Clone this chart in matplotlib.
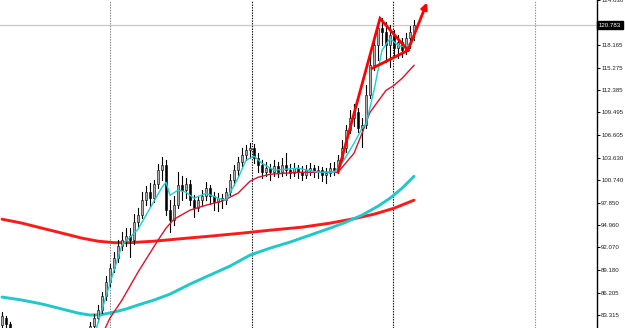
import matplotlib
matplotlib.use("Agg")
import matplotlib.pyplot as plt
from matplotlib.patches import Rectangle

# ---- candle data (bar index = position) ----
opens = [82.02, 82.93, 82.15, 81.51, 80.90, 80.60, 80.40, 80.20, 80.50, 80.30,
         80.00, 79.80, 80.10, 79.90, 79.70, 79.90, 80.20, 80.00, 80.30, 80.10,
         80.40, 80.60, 80.73, 81.89, 82.93, 83.96, 85.77, 87.57, 89.38, 90.67,
         92.22, 92.99, 93.51, 92.99, 95.32, 96.22, 98.16, 99.19, 98.41, 100.22,
         102.03, 102.67, 96.87, 95.57, 97.51, 100.09, 99.45, 100.22, 98.16, 97.12,
         98.16, 98.67, 99.70, 98.67, 97.90, 98.41, 98.16, 99.19, 100.74, 102.03,
         103.06, 103.96, 104.61, 104.87, 103.58, 102.67, 101.77, 102.29, 101.77, 102.54,
         101.77, 102.67, 102.03, 101.64, 102.29, 101.77, 101.38, 102.03, 102.29, 101.77,
         102.03, 101.38, 101.64, 102.29, 102.03, 103.32, 104.87, 107.19, 108.74, 109.51,
         107.45, 107.84, 111.71, 115.58, 118.16, 120.36, 119.84, 118.16, 119.45, 117.77,
         118.55, 117.52, 119.07, 119.84]
highs = [83.70, 83.18, 82.41, 81.55, 81.10, 80.90, 80.60, 80.80, 80.70, 80.50,
         80.20, 80.30, 80.30, 80.10, 80.10, 80.40, 80.40, 80.50, 80.50, 80.60,
         80.80, 80.90, 82.41, 83.44, 84.61, 86.28, 88.35, 89.90, 91.44, 92.99,
         94.03, 94.54, 94.54, 96.35, 97.12, 99.19, 99.96, 100.35, 100.74, 102.80,
         103.71, 103.32, 98.16, 98.67, 101.77, 101.25, 100.99, 100.74, 98.80, 98.67,
         99.45, 100.48, 100.09, 99.19, 99.06, 98.93, 99.70, 101.51, 102.67, 103.71,
         104.87, 105.25, 105.51, 105.38, 104.22, 103.32, 103.06, 102.80, 103.32, 103.06,
         103.58, 104.22, 102.80, 102.93, 102.67, 102.54, 102.67, 102.93, 102.67, 102.54,
         102.41, 102.29, 102.93, 103.06, 103.96, 105.90, 107.84, 109.77, 110.55, 110.03,
         108.74, 113.00, 116.87, 119.45, 121.13, 121.65, 121.13, 120.74, 120.10, 119.45,
         119.07, 119.71, 120.61, 121.39]
lows = [81.64, 81.38, 81.12, 80.70, 80.40, 80.20, 79.90, 80.00, 80.10, 79.80,
        79.50, 79.60, 79.70, 79.40, 79.50, 79.70, 79.80, 79.80, 79.90, 79.90,
        80.20, 80.30, 80.34, 81.38, 82.41, 83.57, 85.25, 87.05, 88.86, 90.15,
        91.70, 92.22, 90.80, 92.48, 94.54, 95.83, 97.51, 97.25, 97.90, 99.70,
        100.74, 96.22, 94.03, 94.93, 97.12, 98.16, 98.41, 97.51, 95.96, 96.74,
        97.38, 98.16, 97.64, 96.87, 96.74, 97.12, 97.64, 98.80, 100.09, 101.25,
        102.54, 103.32, 103.58, 102.93, 101.77, 100.99, 101.25, 100.74, 101.25, 101.12,
        101.25, 101.38, 100.99, 101.25, 100.99, 100.74, 100.99, 101.38, 101.12, 100.99,
        100.61, 100.35, 101.25, 101.38, 101.64, 103.06, 104.35, 106.80, 107.71, 106.93,
        104.98, 107.45, 111.32, 114.93, 116.23, 118.16, 115.97, 115.32, 116.87, 116.48,
        116.61, 117.00, 117.77, 118.81]
closes = [83.18, 82.15, 81.51, 80.90, 80.60, 80.40, 80.20, 80.50, 80.30, 80.00,
          79.80, 80.10, 79.90, 79.70, 79.90, 80.20, 80.00, 80.30, 80.10, 80.40,
          80.60, 80.73, 81.89, 82.93, 83.96, 85.77, 87.57, 89.38, 90.67, 92.22,
          92.99, 93.51, 92.99, 95.32, 96.22, 98.16, 99.19, 98.41, 100.22, 102.03,
          102.67, 96.87, 95.57, 97.51, 100.09, 99.45, 100.22, 98.16, 97.12, 98.16,
          98.67, 99.70, 98.67, 97.90, 98.41, 98.16, 99.19, 100.74, 102.03, 103.06,
          103.96, 104.61, 104.87, 103.58, 102.67, 101.77, 102.29, 101.77, 102.54, 101.77,
          102.67, 102.03, 101.64, 102.29, 101.77, 101.38, 102.03, 102.29, 101.77, 102.03,
          101.38, 101.64, 102.29, 102.03, 103.32, 104.87, 107.19, 108.74, 109.51, 107.45,
          107.84, 111.71, 115.58, 118.16, 120.36, 119.84, 118.16, 119.45, 117.77, 118.55,
          117.52, 119.07, 119.84, 120.74]

# ---- moving averages (bar, price) ----
slow_red_x = [0, 5, 10, 15, 20, 24, 28, 32, 38, 45, 52, 60, 67, 75, 82, 88, 93, 98, 103]
slow_red_y = [95.70, 95.19, 94.54, 93.90, 93.25, 92.86, 92.67, 92.67, 92.86, 93.19,
              93.51, 93.90, 94.28, 94.67, 95.19, 95.77, 96.35, 97.12, 98.16]
slow_cyan_x = [0, 5, 10, 15, 19, 22, 25, 28, 31, 34, 38, 42, 47, 52, 57, 62, 67, 72,
               77, 82, 86, 90, 94, 97, 100, 103]
slow_cyan_y = [85.64, 85.25, 84.74, 84.09, 83.57, 83.31, 83.38, 83.70, 84.09, 84.61,
               85.25, 86.02, 87.31, 88.48, 89.64, 91.06, 91.96, 92.74, 93.64, 94.54,
               95.32, 96.22, 97.38, 98.41, 99.70, 101.25]
mid_red_x = [25, 27, 30, 34, 39, 41, 43, 47, 51, 55, 59, 62, 64, 67, 74, 82, 84,
             88, 90, 92, 94, 96, 98, 100, 103]
mid_red_y = [80.73, 82.93, 85.25, 88.86, 92.99, 94.54, 95.70, 96.87, 97.51, 98.03,
             99.06, 100.61, 101.12, 101.51, 101.77, 101.77, 101.77, 104.22, 106.80,
             109.51, 110.93, 112.35, 113.00, 113.90, 115.58]
fast_cyan_x = [23, 24, 27, 30, 34, 37, 40, 41, 42, 44, 46, 48, 51, 54, 56, 59, 61, 63,
               65, 68, 74, 79, 83, 85, 88, 90, 91, 93, 95, 97, 99, 101, 103]
fast_cyan_y = [80.73, 82.28, 87.44, 92.35, 94.41, 97.12, 99.83, 100.48, 98.80, 99.45,
               99.19, 98.41, 99.06, 98.41, 98.16, 100.99, 103.32, 103.84, 102.93,
               102.03, 102.29, 101.77, 101.77, 102.93, 105.51, 107.45, 107.97, 112.35,
               117.52, 119.07, 118.16, 117.90, 119.07]

# ---- hand-drawn trend lines (bar, price) ----
wedge_x = [84, 94.5, 101.5]
wedge_y = [101.77, 121.65, 117.52]
lower_x = [92.5, 101.5]
lower_y = [115.19, 117.52]
arrow_x = [101.5, 106.25]
arrow_y = [117.52, 123.71]

separators = [27, 62.5, 97.75, 133.25]
separator_colors = ["#808080", "#000000", "#000000", "#909090"]
last_price = 120.783
tick_values = [83.315, 86.205, 89.180, 92.070, 94.960, 97.850, 100.740, 103.630,
               106.605, 109.495, 112.385, 115.275, 118.165, 124.030]
tick_labels = ["83.315", "86.205", "89.180", "92.070", "94.960", "97.850", "100.740",
               "103.630", "106.605", "109.495", "112.385", "115.275", "118.165", "124.030"]

W, H = 625, 328
fig = plt.figure(figsize=(W / 100, H / 100), dpi=100)
ax = fig.add_axes([0, 0, 597 / W, 1])
ax.set_xlim(-0.5, 148.75)
ax.set_ylim(81.64, 123.97)

for s in ["left", "top", "bottom"]:
    ax.spines[s].set_visible(False)
ax.spines["right"].set_color("black")
ax.spines["right"].set_linewidth(1.0)
ax.set_xticks([])
ax.yaxis.tick_right()
ax.set_yticks(tick_values)
ax.set_yticklabels(tick_labels, fontsize=4.4, family="Liberation Sans", color="#202020")
ax.tick_params(axis="y", direction="out", length=2.0, width=0.7, pad=1.0, colors="black",
               labelcolor="#202020")

# separators
for sx, sc in zip(separators, separator_colors):
    ax.axvline(sx, color=sc, lw=0.8, ls=(0, (1.2, 1.2)), zorder=1)
ax.axhline(last_price, color="#c8c8c8", lw=0.9, zorder=1)

# slow MAs
ax.plot(slow_red_x, slow_red_y, color="#ff1a1a", lw=2.1, zorder=3, solid_capstyle="round")
ax.plot(slow_cyan_x, slow_cyan_y, color="#20c8cc", lw=2.1, zorder=3, solid_capstyle="round")

# candles
for i, (o, h, l, c) in enumerate(zip(opens, highs, lows, closes)):
    ax.plot([i, i], [l, h], color="black", lw=0.8, zorder=4)
    up = c >= o
    bottom = min(o, c)
    height = max(abs(c - o), 0.08)
    ax.add_patch(Rectangle((i - 0.36, bottom), 0.72, height,
                           facecolor="#b0b0b0" if up else "#000000",
                           edgecolor="black", lw=0.4, zorder=5))

ax.plot(mid_red_x, mid_red_y, color="#e0102a", lw=1.0, zorder=6)
ax.plot(fast_cyan_x, fast_cyan_y, color="#18d0d8", lw=1.0, zorder=6)

# trend drawings
ax.plot(wedge_x, wedge_y, color="#ff0000", lw=2.0, zorder=7, solid_joinstyle="miter")
ax.plot(lower_x, lower_y, color="#ff0000", lw=2.0, zorder=7)
ax.annotate("", xy=(arrow_x[1], arrow_y[1]), xytext=(arrow_x[0], arrow_y[0]),
            arrowprops=dict(arrowstyle="-|>", color="#ff0000", lw=2.0,
                            mutation_scale=9, shrinkA=0, shrinkB=0), zorder=7)

# current price label box
ax.text(1.0 + 2 / 597, last_price, "120.783", transform=ax.get_yaxis_transform(),
        fontsize=4.4, family="Liberation Sans", color="white", va="center", ha="left",
        bbox=dict(boxstyle="square,pad=0.3", facecolor="black", edgecolor="black"),
        clip_on=False, zorder=10)

fig.savefig("out.png", dpi=100)
